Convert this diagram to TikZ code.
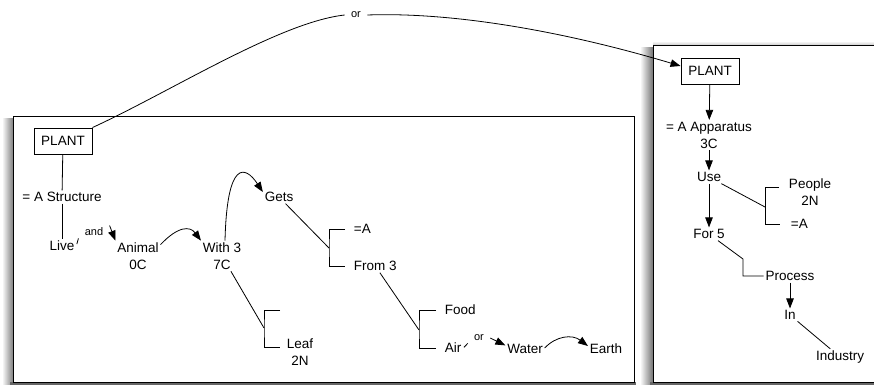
\documentclass[tikz,border=0pt]{standalone}
\usepackage{fontspec}
\setmainfont{Liberation Sans}
\usetikzlibrary{arrows.meta}
\begin{document}
\begin{tikzpicture}[x=1pt,y=-1pt,
  line width=0.8pt,
  txt/.style={font=\fontsize{13.5}{17}\selectfont, inner sep=1.5pt, align=center},
  lbl/.style={font=\fontsize{11}{13}\selectfont, inner xsep=6pt, inner ysep=2pt},
  plantbox/.style={txt, draw, line width=0.9pt, minimum width=58pt, minimum height=26pt},
  arr/.style={-{Triangle[length=10pt,width=7.5pt]}},
  panel/.style={draw, line width=1pt, fill=white}]
\useasboundingbox (0,0) rectangle (874,386);
\fill[white] (0,0) rectangle (874,386);

% panels with soft shadows
\shade[left color=white, right color=black!50] (2,118) rectangle (13,384);
\fill[black!60] (10,382) rectangle (636,385);
\draw[panel] (13,116) rectangle (634,382);
\shade[left color=white, right color=black!55] (640,47) rectangle (653,384);
\fill[black!60] (650,382) rectangle (880,385);
\shade[top color=white, bottom color=black!20] (653,41) rectangle (880,45);
\draw[panel] (653,45) rectangle (884,382);

% left panel
\node[plantbox] (plantL) at (63,141) {PLANT};
\node[txt] (struct) at (62,197) {= A Structure};
\node[txt] (live) at (62,246) {Live};
\node[lbl] (andlbl) at (94,232) {and};
\node[txt] (animal) at (138,256) {Animal\\0C};
\node[txt] (with) at (222,256) {With 3\\7C};
\node[txt] (gets) at (279,197) {Gets};
\node[txt,anchor=west] (eqA1) at (352,229) {=A};
\node[txt,anchor=west] (from) at (352,266) {From 3};
\node[txt,anchor=west] (food) at (443,310) {Food};
\node[txt,anchor=west] (air) at (443,348) {Air};
\node[lbl] (orlbl) at (479,338) {or};
\node[txt] (water) at (525,349) {Water};
\node[txt] (earth) at (606,349) {Earth};
\node[txt] (leaf) at (300,352) {Leaf\\2N};

\coordinate (b1) at (329,248);
\coordinate (b2) at (419,330);
\coordinate (b3) at (264,328);
\coordinate (b3top) at (280,310);
\coordinate (b3bot) at (280,347);

\draw (plantL) -- (struct);
\draw (struct) -- (live);
\draw[shorten <=2pt] (live.east) -- (andlbl.south west);
\draw[arr] (andlbl.north east) -- (animal.north west);
\draw[arr] ([yshift=-4pt]animal.north east) .. controls (178,226) and (190,226) .. (with.north west);
\draw[arr] ([xshift=3pt]with.north) .. controls (227,160) and (245,165) .. ([yshift=5pt]gets.west);
\draw (gets) -- (b1);
\draw ([xshift=-7pt]eqA1.west) -| (b1) |- ([xshift=-7pt]from.west);
\draw (from) -- (b2);
\draw ([xshift=-7pt]food.west) -| (b2) |- ([xshift=-7pt]air.west);
\draw (with) -- (b3);
\draw (b3top) -| (b3) |- (b3bot);
\draw[shorten <=1pt] (air.east) -- (orlbl.south west);
\draw[arr] (orlbl.east) -- ([yshift=-3pt]water.north west);
\draw[arr] ([yshift=1pt]water.east) .. controls (556,336) and (572,334) .. ([yshift=3pt]earth.west);

% right panel
\node[plantbox] (plantR) at (710,71) {PLANT};
\node[txt] (app) at (709,135) {= A Apparatus\\3C};
\node[txt] (use) at (709,177) {Use};
\node[txt] (people) at (810,192) {People\\2N};
\node[txt,anchor=west] (eqA2) at (789,224) {=A};
\node[txt] (for5) at (709,234) {For 5};
\node[txt] (process) at (790,276) {Process};
\node[txt] (in) at (790,315) {In};
\node[txt] (industry) at (840,357) {Industry};

\coordinate (b4) at (765,207);
\coordinate (k) at (743,259);

\draw[arr] (plantR) -- (app);
\draw[arr] (app) -- (use);
\draw[arr] (use) -- (for5);
\draw (use) -- (b4);
\draw ([xshift=-8pt,yshift=5pt]people.west) -| (b4) |- ([xshift=-9pt]eqA2.west);
\draw (for5) -- (k) |- (process.west);
\draw[arr] (process) -- (in);
\draw (in) -- (industry);

% link between the two panels
\node[lbl] (bigor) at (356,15) {or};
\draw (plantL.north east) .. controls (170,92) and (280,22) .. (bigor.west);
\draw[arr] (bigor.east) .. controls (450,12) and (560,30) .. ([yshift=5pt]plantR.west);
\end{tikzpicture}
\end{document}
